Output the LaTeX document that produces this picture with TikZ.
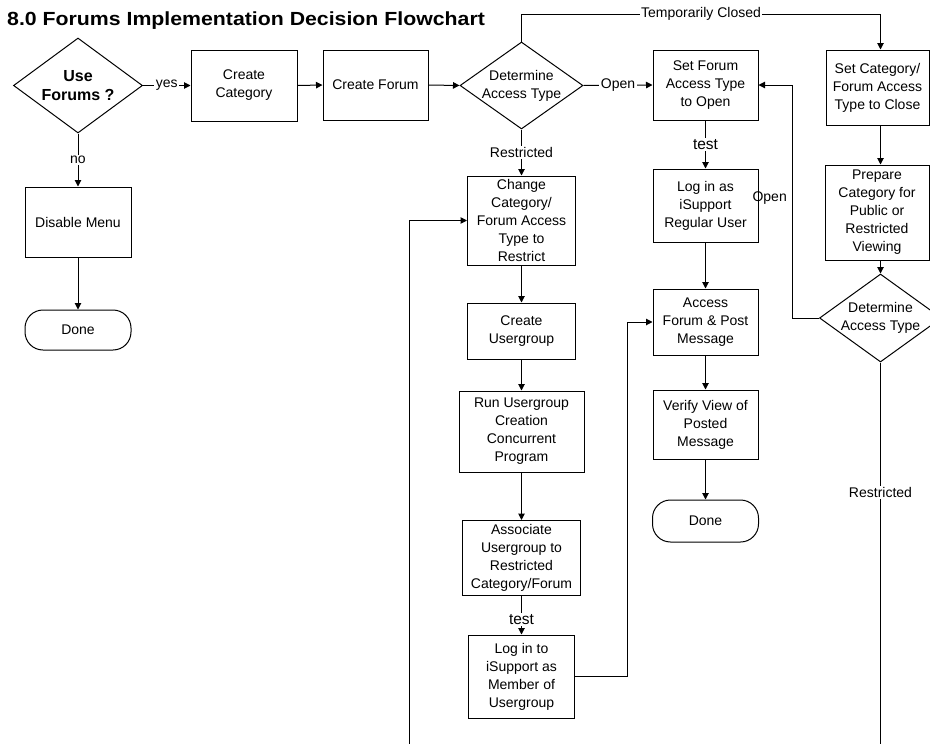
\documentclass[tikz,border=0pt]{standalone}
\usepackage{fontspec}
\setmainfont{Liberation Sans}
\newfontfamily\titlefam[FakeStretch=1.12]{Liberation Sans}
\usetikzlibrary{shapes.geometric,arrows.meta}
\begin{document}
\begin{tikzpicture}[x=1pt,y=-1pt,
  every node/.style={font=\fontsize{14}{18}\selectfont},
  box/.style={draw, line width=1pt, inner sep=0pt, align=center},
  term/.style={draw, line width=1pt, inner sep=0pt, align=center, rounded corners=18pt},
  dia/.style={diamond, draw, line width=1pt, inner sep=0pt},
  diatext/.style={align=center, inner sep=0pt},
  arr/.style={-{Triangle[length=6.5pt,width=6.5pt]}, line width=1pt},
  ln/.style={line width=1pt},
  lbl/.style={fill=white, inner sep=1.5pt, font=\fontsize{14}{16}\selectfont},
  tlbl/.style={fill=white, inner sep=1.5pt, font=\fontsize{15.5}{17}\selectfont}]
\useasboundingbox[fill=white] (0,0) rectangle (930,744);

% title
\node[anchor=base west, inner sep=0pt, font=\titlefam\bfseries\fontsize{19}{22}\selectfont] (title) at (7,25) {8.0 Forums Implementation Decision Flowchart};

% left column
\node[dia, minimum width=129pt, minimum height=95pt] (usef) at (78,85.5) {};
\node[diatext, font=\bfseries\fontsize{16}{19}\selectfont] (usefT) at (usef.center) {Use\\Forums ?};
\node[box, minimum width=106pt, minimum height=70pt] (disable) at (78,222) {Disable Menu};
\node[term, minimum width=106pt, minimum height=40pt] (done1) at (78,330) {Done};

% top row
\node[box, minimum width=106pt, minimum height=71pt] (cat) at (244,85.5) {Create\\Category};
\node[box, minimum width=105pt, minimum height=70pt] (forum) at (375.5,85) {Create Forum};
\node[dia, minimum width=123pt, minimum height=87pt] (d1) at (521.5,85.5) {};
\node[diatext] (d1T) at (d1.center) {Determine\\Access Type};
\node[box, minimum width=105pt, minimum height=70pt] (setopen) at (705.5,85) {Set Forum\\Access Type\\to Open};
\node[box, minimum width=103pt, minimum height=75pt] (setclose) at (877.5,87.5) {Set Category/\\Forum Access\\Type to Close};

% restricted column
\node[box, minimum width=108pt, minimum height=89pt] (change) at (521.5,220.5) {Change\\Category/\\Forum Access\\Type to\\Restrict};
\node[box, minimum width=108pt, minimum height=56pt] (usergrp) at (521.5,331) {Create\\Usergroup};
\node[box, minimum width=125pt, minimum height=81pt] (run) at (521.5,431.5) {Run Usergroup\\Creation\\Concurrent\\Program};
\node[box, minimum width=118pt, minimum height=75pt] (assoc) at (521.5,558) {Associate\\Usergroup to\\Restricted\\Category/Forum};
\node[box, minimum width=106pt, minimum height=83pt] (login2) at (521.5,676.5) {Log in to\\iSupport as\\Member of\\Usergroup};

% open column
\node[box, minimum width=105pt, minimum height=73pt] (login1) at (705.5,205.5) {Log in as\\iSupport\\Regular User};
\node[box, minimum width=105pt, minimum height=66pt] (access) at (705.5,322) {Access\\Forum \& Post\\Message};
\node[box, minimum width=105pt, minimum height=69pt] (verify) at (705.5,424.5) {Verify View of\\Posted\\Message};
\node[term, minimum width=106pt, minimum height=42pt] (done2) at (705.5,521) {Done};

% closed column
\node[box, minimum width=104pt, minimum height=95pt] (prepare) at (877,212.5) {Prepare\\Category for\\Public or\\Restricted\\Viewing};
\node[dia, minimum width=122pt, minimum height=88pt] (d2) at (880.5,318) {};
\node[diatext] (d2T) at (d2.center) {Determine\\Access Type};

% coordinates
\coordinate (tl) at (521.5,14);
\coordinate (tr) at (880.5,14);
\coordinate (bl) at (409,744);
\coordinate (br) at (880.5,744);
\coordinate (jx) at (627,0);
\coordinate (ox) at (792,0);

% connectors
\draw[arr] (usef.east) -- node[lbl] (yesL) {yes} (cat.west);
\draw[arr] (usef.south) -- node[lbl] (noL) {no} (disable.north);
\draw[arr] (disable.south) -- (done1.north);
\draw[arr] (cat.east) -- (forum.west);
\draw[arr] (forum.east) -- (d1.west);
\draw[arr] (d1.north) -- (tl) -- node[lbl] (tcL) {Temporarily Closed} (tr) -- (tr |- setclose.north);
\draw[arr] (d1.east) -- node[lbl] (openL) {Open} (setopen.west);
\draw[arr] (d1.south) -- node[lbl] (restrL) {Restricted} (change.north);
\draw[arr] (setopen.south) -- node[tlbl] (testL1) {test} (login1.north);
\draw[arr] (login1.south) -- (access.north);
\draw[arr] (access.south) -- (verify.north);
\draw[arr] (verify.south) -- (done2.north);
\draw[arr] (change.south) -- (usergrp.north);
\draw[arr] (usergrp.south) -- (run.north);
\draw[arr] (run.south) -- (assoc.north);
\draw[arr] (assoc.south) -- node[tlbl, pos=0.6] (testL2) {test} (login2.north);
\draw[arr] (login2.east) -- (login2.east -| jx) |- (access.west);
\draw[arr] (tr |- setclose.south) -- (tr |- prepare.north);
\draw[arr] (tr |- prepare.south) -- (d2.north);
\draw[arr] (d2.west) -- (d2.west -| ox) |- (setopen.east);
\node[anchor=east, inner sep=0pt] (openL2) at (787,198) {Open};
\draw[ln] (d2.south) -- node[lbl, pos=0.34] (restrL2) {Restricted} (d2.south |- br);
\draw[arr] (bl) |- (change.west);
\end{tikzpicture}
\end{document}
